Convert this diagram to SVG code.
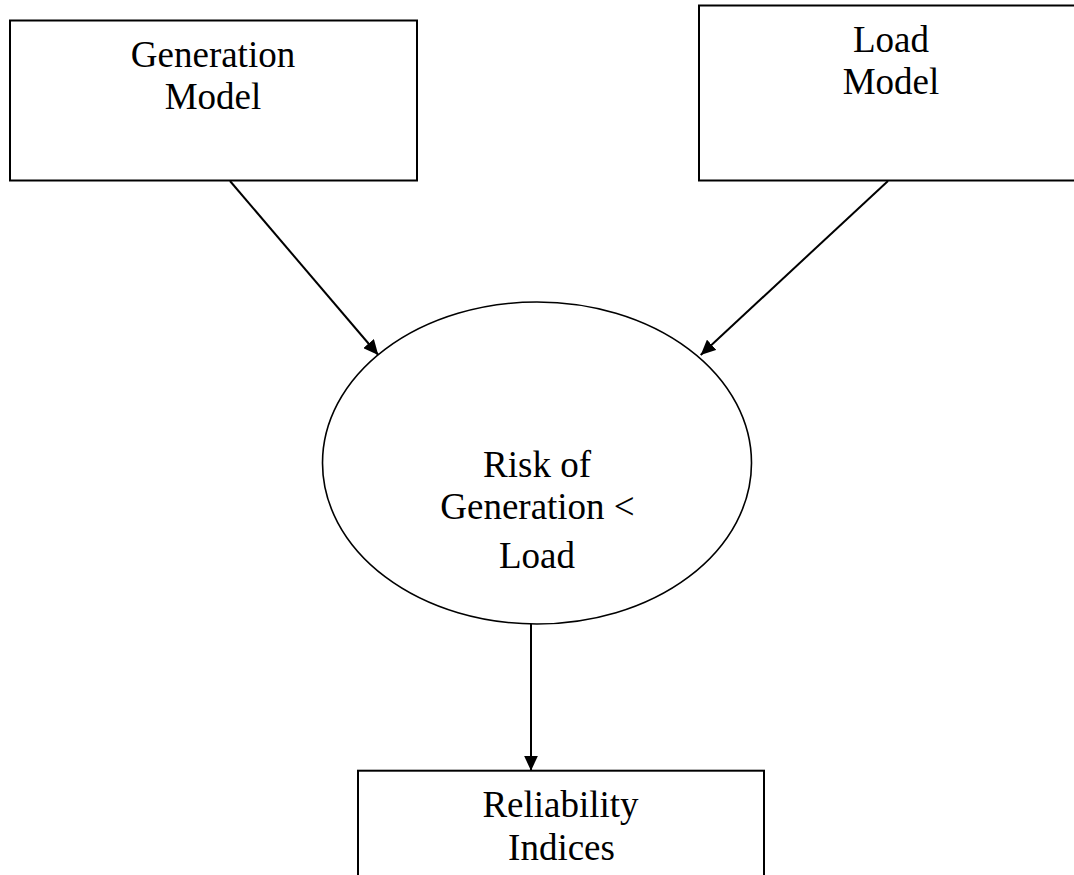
<svg xmlns="http://www.w3.org/2000/svg" width="1074" height="875" viewBox="0 0 1074 875">
<style>
.box{fill:#fff;stroke:#000;stroke-width:2}
.ell{fill:#fff;stroke:#000;stroke-width:1.6}
.lbl{font-family:"Liberation Serif","Times New Roman",serif;font-size:37px;fill:#000;text-anchor:middle}
.conn{stroke:#000;stroke-width:2;fill:none;marker-end:url(#ah)}
</style>
<defs>
<marker id="ah" markerUnits="userSpaceOnUse" viewBox="0 0 15 14" refX="15" refY="7" markerWidth="15" markerHeight="14" orient="auto">
<path d="M0,0 L15,7 L0,14 Z" fill="#000"/>
</marker>
</defs>
<rect width="1074" height="875" fill="#fff"/>
<g id="gen">
<rect class="box" x="10" y="20.5" width="407" height="160"/>
<text class="lbl" x="213" y="66.7">Generation</text>
<text class="lbl" x="213" y="109.3">Model</text>
</g>
<g id="load">
<rect class="box" x="699" y="5.5" width="390" height="175"/>
<text class="lbl" x="891" y="51.7">Load</text>
<text class="lbl" x="891" y="94.3">Model</text>
</g>
<g id="risk">
<ellipse class="ell" cx="537" cy="463" rx="214.5" ry="161"/>
<text class="lbl" x="537" y="476.7">Risk of</text>
<text class="lbl" x="537.5" y="519.3">Generation &lt;</text>
<text class="lbl" x="537" y="567.7">Load</text>
</g>
<g id="rel">
<rect class="box" x="358" y="770.7" width="406" height="130"/>
<text class="lbl" x="560.5" y="816.7">Reliability</text>
<text class="lbl" x="561.5" y="860">Indices</text>
</g>
<g id="connectors">
<line class="conn" x1="230" y1="181" x2="378.3" y2="355"/>
<line class="conn" x1="888" y1="181" x2="700.7" y2="355"/>
<line class="conn" x1="531" y1="624" x2="531" y2="770.7"/>
</g>
</svg>
